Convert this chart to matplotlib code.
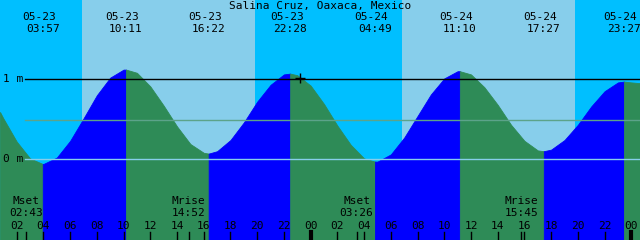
import matplotlib
matplotlib.use('Agg')
import matplotlib.pyplot as plt
import matplotlib.transforms as mtransforms

# tide chart for Salina Cruz, two days (05-23 / 05-24)
days = ['05-23', '05-24']
x_start = 0.75    # hours after 05-23 00:00
x_end = 48.65

tide_dates = ['05-23', '05-23', '05-23', '05-23', '05-24', '05-24', '05-24', '05-24']
tide_times = ['03:57', '10:11', '16:22', '22:28', '04:49', '11:10', '17:27', '23:27']
tide_levels = [-0.06, 1.12, 0.07, 1.07, -0.03, 1.10, 0.10, 0.97]

# levels, on the hour
hour_marks = [0.75] + list(range(1, 49)) + [48.65]
hour_levels = [0.59,
               0.51, 0.22, 0.01, -0.06, 0.02, 0.23, 0.51, 0.80, 1.02, 1.12,
               1.08, 0.91, 0.67, 0.41, 0.19, 0.08, 0.10, 0.24, 0.46, 0.72,
               0.93, 1.06, 1.05, 0.92, 0.69, 0.42, 0.18, 0.01, -0.03, 0.06,
               0.27, 0.54, 0.81, 1.01, 1.10, 1.06, 0.90, 0.68, 0.43, 0.23,
               0.11, 0.12, 0.24, 0.43, 0.66, 0.85, 0.96, 0.96,
               0.95]

sun_dates = ['05-23', '05-23', '05-24', '05-24']
sun_times = ['06:52', '19:50', '06:49', '19:47']   # rise, set, rise, set

moon_labels = ['Mset', 'Mrise', 'Mset', 'Mrise']
moon_dates = ['05-23', '05-23', '05-24', '05-24']
moon_times = ['02:43', '14:52', '03:26', '15:45']

mean_level = 0.49
now_date, now_time, now_level = '05-23', '23:12', 1.02

NIGHT = '#00BFFF'
DAY = '#87CEEB'
FLOOD = '#0000FF'
EBB = '#2E8B57'
FONT = 'DejaVu Sans Mono'


def to_hours(date, hhmm):
    h, m = hhmm.split(':')
    return days.index(date) * 24 + int(h) + int(m) / 60.0


W, H = 640, 240
fig = plt.figure(figsize=(W / 100, H / 100), dpi=100)
ax = fig.add_axes([0, 0, 1, 1])
ax.set_xlim(x_start, x_end)
ax.set_ylim(-1.01, 1.99)
ax.axis('off')
tx = ax.get_xaxis_transform()
ty = ax.get_yaxis_transform()

# day / night background
sun_hours = [to_hours(d, t) for d, t in zip(sun_dates, sun_times)]
edges = [x_start] + sun_hours + [x_end]
for i in range(len(edges) - 1):
    ax.axvspan(edges[i], edges[i + 1], color=NIGHT if i % 2 == 0 else DAY, lw=0, zorder=0)

# tide curve, blue while rising and green while falling
tide_hours = [to_hours(d, t) for d, t in zip(tide_dates, tide_times)]
pts = sorted(zip(hour_marks + tide_hours, hour_levels + tide_levels))
cuts = [x_start] + tide_hours + [x_end]
for a, b in zip(cuts[:-1], cuts[1:]):
    seg = [p for p in pts if a <= p[0] <= b]
    xs = [p[0] for p in seg]
    ys = [p[1] for p in seg]
    col = FLOOD if ys[-1] > ys[0] else EBB
    ax.fill_between(xs, ys, -1.01, color=col, lw=0.6, edgecolor=col, zorder=1)

# reference lines
x0 = 25 / W
ax.axhline(1, xmin=x0, color='black', lw=1, zorder=2)
ax.axhline(mean_level, xmin=x0, color='#5CA38A', lw=1, zorder=2)
ax.axhline(0, xmin=x0, color=DAY, lw=1, zorder=2)
for lev in [1, 0]:
    ax.text(3 / W, lev, '%d m' % lev, ha='left', va='center', family=FONT, fontsize=8,
            transform=ty, zorder=3)

ax.plot([to_hours(now_date, now_time)], [now_level], marker='+', color='black',
        markersize=7, mew=1, zorder=4)

# title and high/low labels
ax.text(0.5, 1 - 6 / H, 'Salina Cruz, Oaxaca, Mexico', ha='center', va='center',
        family=FONT, fontsize=8, transform=ax.transAxes, zorder=3)
date_tr = mtransforms.offset_copy(tx, fig=fig, x=-3.5, y=0, units='dots')
for d, t, h in zip(tide_dates, tide_times, tide_hours):
    ax.text(h, 1 - 17 / H, d, ha='center', va='center', family=FONT, fontsize=8,
            transform=date_tr, zorder=3)
    ax.text(h, 1 - 29 / H, t, ha='center', va='center', family=FONT, fontsize=8,
            transform=tx, zorder=3)

# moon events
for lab, d, t in zip(moon_labels, moon_dates, moon_times):
    h = to_hours(d, t)
    ax.text(h, 38.5 / H, lab, ha='center', va='center', family=FONT, fontsize=8,
            transform=tx, zorder=3)
    ax.text(h, 26.8 / H, t, ha='center', va='center', family=FONT, fontsize=8,
            transform=tx, zorder=3)
    ax.plot([h, h], [0, 8 / H], color='black', lw=1, transform=tx, zorder=3)

# hour ticks
for h in range(2, 49, 2):
    ax.text(h, 14.2 / H, '%02d' % (h % 24), ha='center', va='center', family=FONT,
            fontsize=8, transform=tx, zorder=3)
    ax.plot([h, h], [0, 8 / H], color='black', lw=3 if h % 24 == 0 else 1,
            transform=tx, zorder=3)

fig.savefig('out.png', dpi=100)
